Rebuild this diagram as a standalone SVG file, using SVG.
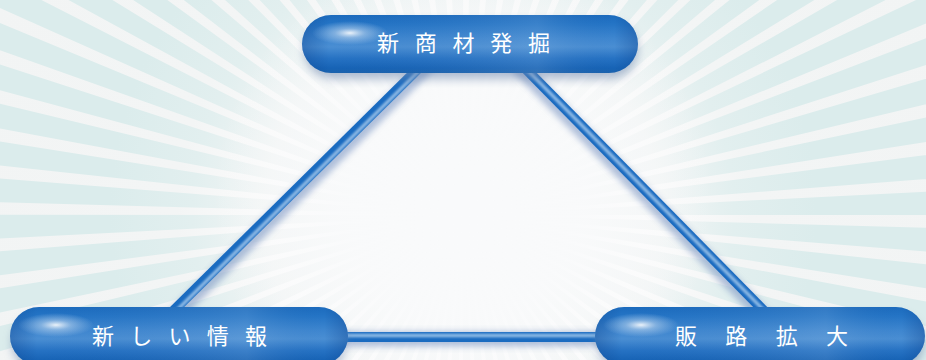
<svg xmlns="http://www.w3.org/2000/svg" width="926" height="360" viewBox="0 0 926 360">
<defs>
  <radialGradient id="bgB" cx="463" cy="215" r="520" gradientUnits="userSpaceOnUse">
    <stop offset="0" stop-color="#f9fafa"/>
    <stop offset="0.38" stop-color="#f2f5f5"/>
    <stop offset="0.52" stop-color="#e2efef"/>
    <stop offset="0.68" stop-color="#dbecec"/>
    <stop offset="1" stop-color="#dbecec"/>
  </radialGradient>
  <radialGradient id="bgA" cx="463" cy="215" r="520" gradientUnits="userSpaceOnUse">
    <stop offset="0" stop-color="#ffffff"/>
    <stop offset="0.35" stop-color="#fcfcfc"/>
    <stop offset="0.55" stop-color="#f3f5f5"/>
    <stop offset="1" stop-color="#f2f4f4"/>
  </radialGradient>
  <radialGradient id="center" cx="463" cy="200" r="250" gradientUnits="userSpaceOnUse">
    <stop offset="0" stop-color="#f9fafb" stop-opacity="1"/>
    <stop offset="0.45" stop-color="#f9fafb" stop-opacity="0.95"/>
    <stop offset="1" stop-color="#f9fafb" stop-opacity="0"/>
  </radialGradient>
  <linearGradient id="pillV" x1="0" y1="0" x2="0" y2="1">
    <stop offset="0" stop-color="#1c6bbd"/>
    <stop offset="0.15" stop-color="#2474c5"/>
    <stop offset="0.4" stop-color="#3e86cf"/>
    <stop offset="0.55" stop-color="#4a8ed3"/>
    <stop offset="0.75" stop-color="#2672c3"/>
    <stop offset="0.92" stop-color="#1763b5"/>
    <stop offset="1" stop-color="#1b62ad"/>
  </linearGradient>
  <linearGradient id="pillH" x1="0" y1="0" x2="1" y2="0">
    <stop offset="0" stop-color="#0b3f8a" stop-opacity="0.35"/>
    <stop offset="0.08" stop-color="#0b3f8a" stop-opacity="0"/>
    <stop offset="0.7" stop-color="#ffffff" stop-opacity="0.1"/>
    <stop offset="0.93" stop-color="#0b3f8a" stop-opacity="0"/>
    <stop offset="1" stop-color="#0b3f8a" stop-opacity="0.35"/>
  </linearGradient>
  <radialGradient id="glow">
    <stop offset="0" stop-color="#ffffff" stop-opacity="0.9"/>
    <stop offset="0.4" stop-color="#dbe9f7" stop-opacity="0.45"/>
    <stop offset="1" stop-color="#cfe2f5" stop-opacity="0"/>
  </radialGradient>
  <filter id="blur5" x="-20%" y="-50%" width="140%" height="200%"><feGaussianBlur stdDeviation="5"/></filter>
  <filter id="blur3" filterUnits="userSpaceOnUse" x="0" y="0" width="926" height="360"><feGaussianBlur stdDeviation="3"/></filter>
  <filter id="blur1" filterUnits="userSpaceOnUse" x="0" y="0" width="926" height="360"><feGaussianBlur stdDeviation="0.8"/></filter>
</defs>
<style>
  .shadow{fill:#6d86ad;opacity:.55;filter:url(#blur5)}
  .body{fill:url(#pillV)}
  .shade{fill:url(#pillH)}
  .glow{fill:url(#glow)}
  .label{font-family:"Noto Sans CJK JP","Noto Sans",sans-serif;font-size:22px;fill:#ffffff}
  .lshadow{fill:none;stroke:#7f98c4;stroke-width:15;opacity:.6;filter:url(#blur3)}
  .tube{fill:none;stroke:#1a6bc0;stroke-width:10}
  .hl{fill:none;stroke:#a9ccee;stroke-width:3.5;opacity:.8;filter:url(#blur1)}
</style>

<!-- background sunburst -->
<rect x="0" y="0" width="926" height="360" fill="url(#bgB)"/>
<circle cx="463" cy="215" r="500" fill="none" stroke="url(#bgA)" stroke-width="1000" stroke-dasharray="13.74 25.53"/>
<rect x="0" y="0" width="926" height="360" fill="url(#center)"/>

<!-- connectors -->
<g id="connectors">
  <path class="lshadow" d="M427,60 L164,320" transform="translate(4,2)"/>
  <path class="lshadow" d="M517,60 L773,320" transform="translate(-3,2)"/>
  <path class="lshadow" d="M330,337 L610,337" transform="translate(0,2)"/>
  <path class="tube" d="M427,60 L164,320"/>
  <path class="tube" d="M517,60 L773,320"/>
  <path class="tube" d="M330,337 L610,337"/>
  <path class="hl" d="M427,60 L164,320" transform="translate(3,0)"/>
  <path class="hl" d="M517,60 L773,320" transform="translate(0.5,0)"/>
  <path class="hl" d="M330,337 L610,337" transform="translate(0,-1.5)"/>
</g>

<!-- top node -->
<g id="node-top">
  <rect class="shadow" x="304" y="21" width="334" height="58" rx="29"/>
  <rect class="body" x="302" y="15" width="336" height="58" rx="29"/>
  <rect class="shade" x="302" y="15" width="336" height="58" rx="29"/>
  <ellipse class="glow" cx="350" cy="33" rx="38" ry="12"/>
  <text class="label" x="377 414.75 452.5 490.25 528" y="51">新商材発掘</text>
</g>

<!-- bottom-left node -->
<g id="node-left">
  <rect class="shadow" x="12" y="314" width="334" height="58" rx="29"/>
  <rect class="body" x="10" y="307" width="338" height="58" rx="29"/>
  <rect class="shade" x="10" y="307" width="338" height="58" rx="29"/>
  <ellipse class="glow" cx="56" cy="325" rx="38" ry="12"/>
  <text class="label" x="92 130.25 168.5 206.75 245" y="344">新しい情報</text>
</g>

<!-- bottom-right node -->
<g id="node-right">
  <rect class="shadow" x="597" y="314" width="327" height="58" rx="29"/>
  <rect class="body" x="595" y="307" width="330" height="58" rx="29"/>
  <rect class="shade" x="595" y="307" width="330" height="58" rx="29"/>
  <ellipse class="glow" cx="641" cy="325" rx="38" ry="12"/>
  <text class="label" x="675 725.33 775.67 826" y="344">販路拡大</text>
</g>
</svg>
